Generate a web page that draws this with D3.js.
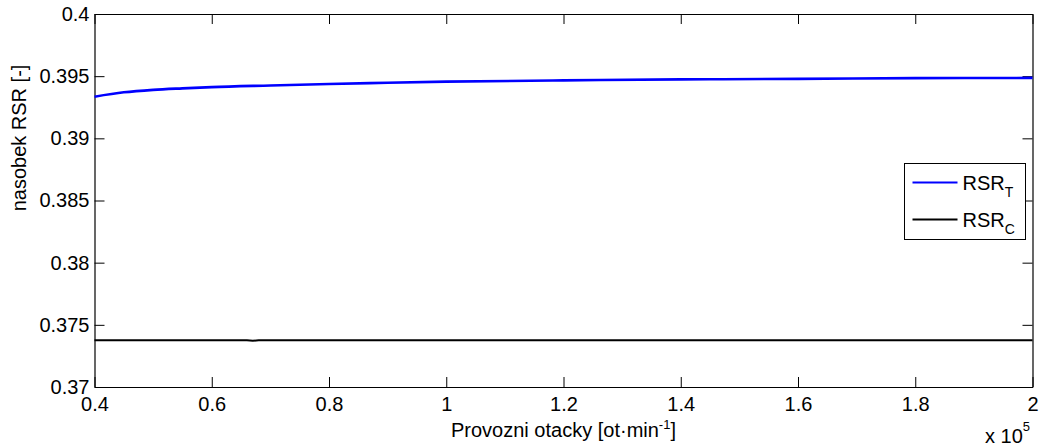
<!DOCTYPE html>
<html>
<head>
<meta charset="utf-8">
<script src="https://cdn.jsdelivr.net/npm/d3@7"></script>
<style>
  body { margin: 0; background: #fff; }
  svg { display: block; font-family: "Liberation Sans", Arial, Helvetica, sans-serif; }
</style>
</head>
<body>
<svg id="chart"></svg>
<script>
// otacky in units of 1e5 ot/min
const speedT = [0.40, 0.45, 0.50, 0.55, 0.60, 0.70, 0.80, 0.90, 1.00, 1.20, 1.40, 1.60, 1.80, 2.00];
const rsrT   = [0.39335, 0.39370, 0.39390, 0.39402, 0.39412, 0.39425, 0.39437, 0.39447, 0.39456, 0.39466, 0.39474, 0.39478, 0.39484, 0.39486];
const speedC = [0.40, 0.66, 0.67, 0.68, 2.00];
const rsrC   = [0.37376, 0.37376, 0.37372, 0.37376, 0.37376];
const xTicks = [0.4, 0.6, 0.8, 1, 1.2, 1.4, 1.6, 1.8, 2];
const yTicks = [0.37, 0.375, 0.38, 0.385, 0.39, 0.395, 0.4];

const W = 1042, H = 448;
const margin = {top: 14, right: 9.5, bottom: 61, left: 94.5};
const iw = W - margin.left - margin.right;
const ih = H - margin.top - margin.bottom;

const svg = d3.select('#chart').attr('width', W).attr('height', H);
const chart = svg.append('g').attr('transform', `translate(${margin.left},${margin.top})`);

const x = d3.scaleLinear().domain([0.4, 2]).range([0, iw]);
const y = d3.scaleLinear().domain([0.37, 0.4]).range([ih, 0]);

const fmt = d => String(+d.toFixed(4));

// axes with inward ticks, mirrored on top/right
const xb = chart.append('g').attr('transform', `translate(0,${ih})`)
    .call(d3.axisBottom(x).tickValues(xTicks).tickSize(-10).tickSizeOuter(0).tickPadding(12).tickFormat(fmt));
const xt = chart.append('g')
    .call(d3.axisTop(x).tickValues(xTicks).tickSize(-10).tickSizeOuter(0).tickFormat(''));
const yl = chart.append('g')
    .call(d3.axisLeft(y).tickValues(yTicks).tickSize(-10).tickSizeOuter(0).tickPadding(5).tickFormat(fmt));
const yr = chart.append('g').attr('transform', `translate(${iw},0)`)
    .call(d3.axisRight(y).tickValues(yTicks).tickSize(-10).tickSizeOuter(0).tickFormat(''));

[xb, xt, yl, yr].forEach(g => {
  g.selectAll('path').attr('stroke', '#000').attr('stroke-width', 1.2);
  g.selectAll('line').attr('stroke', '#000').attr('stroke-width', 1);
  g.selectAll('text').attr('fill', '#000').attr('font-size', 20).attr('font-family', null);
});
xb.selectAll('text').attr('dy', '0.6em');

const line = d3.line().x(d => x(d[0])).y(d => y(d[1]));

chart.append('path')
    .datum(d3.zip(speedC, rsrC))
    .attr('fill', 'none').attr('stroke', '#000').attr('stroke-width', 2)
    .attr('d', line);

chart.append('path')
    .datum(d3.zip(speedT, rsrT))
    .attr('fill', 'none').attr('stroke', '#0000ff').attr('stroke-width', 2.6)
    .attr('d', d3.line().curve(d3.curveMonotoneX).x(d => x(d[0])).y(d => y(d[1])));

// labels
svg.append('text')
    .attr('x', margin.left + iw / 2)
    .attr('y', 437)
    .attr('text-anchor', 'middle')
    .attr('font-size', 20)
    .html('Provozni otacky [ot·min<tspan dy="-8" font-size="13">-1</tspan><tspan dy="8">]</tspan>');

svg.append('text')
    .attr('transform', 'translate(26,138) rotate(-90)')
    .attr('text-anchor', 'middle')
    .attr('font-size', 20)
    .text('nasobek RSR [-]');

svg.append('text')
    .attr('x', 985)
    .attr('y', 443)
    .attr('font-size', 20)
    .html('x 10<tspan dy="-12" font-size="13">5</tspan>');

// legend
const legend = svg.append('g').attr('transform', 'translate(904.5,163.5)');
legend.append('rect')
    .attr('width', 121).attr('height', 76)
    .attr('fill', '#fff').attr('stroke', '#000').attr('stroke-width', 1);

const legendItems = [
  {name: 'RSR', sub: 'T', color: '#0000ff'},
  {name: 'RSR', sub: 'C', color: '#000'}
];
legendItems.forEach((d, i) => {
  const cy = 19 + i * 37;
  legend.append('line')
      .attr('x1', 8).attr('x2', 53).attr('y1', cy).attr('y2', cy)
      .attr('stroke', d.color).attr('stroke-width', 2);
  legend.append('text')
      .attr('x', 58).attr('y', cy + 7)
      .attr('font-size', 20)
      .html(`${d.name}<tspan dy="7" font-size="14">${d.sub}</tspan>`);
});
</script>
</body>
</html>
